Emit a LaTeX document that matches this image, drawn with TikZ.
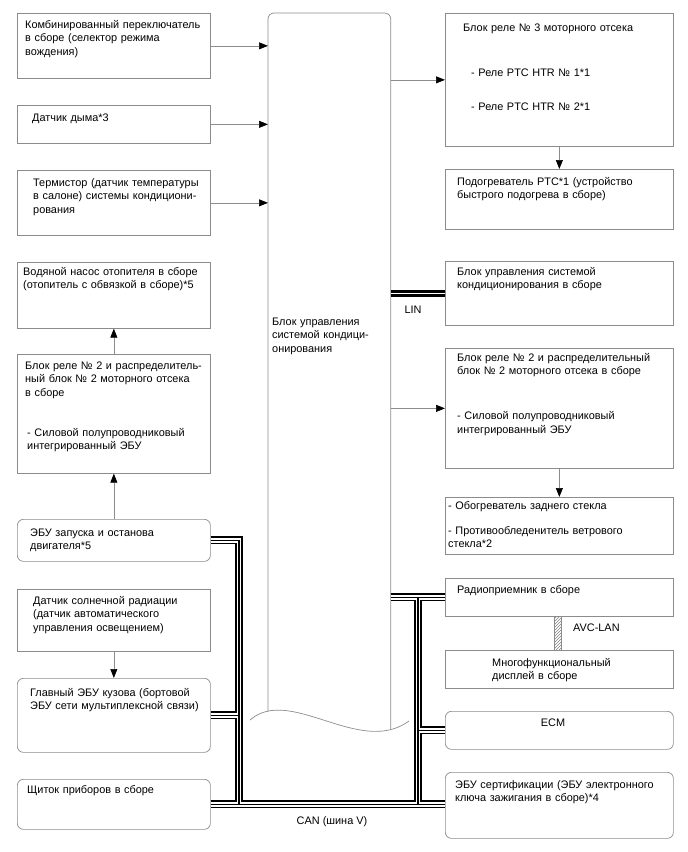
\documentclass[tikz,border=0pt]{standalone}
\usepackage{fontspec}
\setmainfont{Liberation Sans}
\usetikzlibrary{arrows.meta, patterns}

\definecolor{framegray}{HTML}{8C8C8C}

\begin{document}
\begin{tikzpicture}[
  x=1pt, y=-1pt,
  font=\fontsize{10.9}{13.3}\selectfont,
  box/.style={
    rectangle,
    draw=framegray,
    anchor=north west,
    inner sep=0pt,
    line width=0.7pt
  },
  rbox/.style={
    box,
    rounded corners=6pt
  },
  txt/.style={
    anchor=base west,
    inner sep=0pt,
    text width=230pt,
    align=left
  },
  note/.style={
    inner sep=0pt
  },
  flow/.style={
    draw=framegray,
    line width=0.7pt,
    -{Triangle[length=9pt, width=7pt, color=black]}
  },
  lin/.style={
    double=white,
    double distance=1.2pt,
    line width=2.9pt
  }
]
\useasboundingbox (0,0) rectangle (688,852);

% --- Central control unit --------------------------------------------

\node[box, draw=none, minimum width=122pt, minimum height=698pt] (acu) at (268,13) {};
\draw[framegray, line width=0.7pt, rounded corners=6pt]
  (acu.south west) -- (acu.north west) -- (acu.north east) -- ([yshift=-18pt]acu.south east);
\draw[framegray, line width=0.7pt] (250,720) .. controls (290,685) and (360,757) .. (409,721);
\node[txt] (acu-t) at (272,325.5)
{Блок управления\\системой кондици-\\онирования};

% --- Left column -----------------------------------------------------

\node[box, minimum width=193pt, minimum height=65pt] (combsw) at (17,13) {};
\node[txt] (combsw-t) at (25,28.5)
{Комбинированный переключатель\\в сборе (селектор режима\\вождения)};

\node[box, minimum width=193pt, minimum height=38pt] (smoke) at (17,105) {};
\node[txt] (smoke-t) at (32,121.5) {Датчик дыма*3};

\node[box, minimum width=193pt, minimum height=65pt] (thermo) at (17,170) {};
\node[txt] (thermo-t) at (33,186.5)
{Термистор (датчик температуры\\в салоне) системы кондициони-\\рования};

\node[box, minimum width=193pt, minimum height=66pt] (pump) at (17,262) {};
\node[txt] (pump-t) at (23,275.5)
{Водяной насос отопителя в сборе\\(отопитель с обвязкой в сборе)*5};

\node[box, minimum width=193pt, minimum height=119pt] (relay2l) at (17,354) {};
\node[txt] (relay2l-t) at (25,369.5)
{Блок реле № 2 и распределитель-\\ный блок № 2 моторного отсека\\в сборе\\[26.7pt]
\hspace*{2pt}- Силовой полупроводниковый\\\hspace*{2pt}интегрированный ЭБУ};

\node[rbox, minimum width=193pt, minimum height=42pt] (isg) at (17,519) {};
\node[txt] (isg-t) at (30,536.5)
{ЭБУ запуска и останова\\двигателя*5};

\node[box, minimum width=193pt, minimum height=62pt] (sun) at (17,589) {};
\node[txt] (sun-t) at (33,604.5)
{Датчик солнечной радиации\\(датчик автоматического\\управления освещением)};

\node[rbox, minimum width=193pt, minimum height=74pt] (mainbody) at (17,678) {};
\node[txt] (mainbody-t) at (30,696.5)
{Главный ЭБУ кузова (бортовой\\ЭБУ сети мультиплексной связи)};

\node[rbox, minimum width=193pt, minimum height=50pt] (meter) at (17,779) {};
\node[txt] (meter-t) at (27,793.5) {Щиток приборов в сборе};

% --- Right column ----------------------------------------------------

\node[box, minimum width=228pt, minimum height=133pt] (relay3) at (445,13) {};
\node[txt] (relay3-t) at (463,31.5)
{Блок реле № 3 моторного отсека\\[31.7pt]
\hspace*{8pt}- Реле PTC HTR № 1*1\\[20.7pt]
\hspace*{8pt}- Реле PTC HTR № 2*1};

\node[box, minimum width=228pt, minimum height=60pt] (ptc) at (445,169) {};
\node[txt] (ptc-t) at (457,185.5)
{Подогреватель PTC*1 (устройство\\быстрого подогрева в сборе)};

\node[box, minimum width=228pt, minimum height=64pt] (climate) at (445,261) {};
\node[txt] (climate-t) at (457,275.5)
{Блок управления системой\\кондиционирования в сборе};

\node[box, minimum width=228pt, minimum height=120pt] (relay2r) at (445,348) {};
\node[txt] (relay2r-t) at (457,361.5)
{Блок реле № 2 и распределительный\\блок № 2 моторного отсека в сборе\\[31.7pt]
- Силовой полупроводниковый\\интегрированный ЭБУ};

\node[box, minimum width=228pt, minimum height=57pt] (defog) at (445,497) {};
\node[txt] (defog-t) at (448,509.5)
{- Обогреватель заднего стекла\\[11.7pt]
- Противообледенитель ветрового\\стекла*2};

\node[box, minimum width=228pt, minimum height=38pt] (radio) at (445,578) {};
\node[txt] (radio-t) at (457,593.5) {Радиоприемник в сборе};

\node[box, minimum width=228pt, minimum height=38pt] (mfd) at (445,650) {};
\node[txt] (mfd-t) at (492,666.5)
{Многофункциональный\\дисплей в сборе};

\node[rbox, minimum width=228pt, minimum height=38pt] (ecm) at (445,711) {};
\node[note, anchor=base] (ecm-t) at (553,726.5) {ECM};

\node[rbox, minimum width=228pt, minimum height=66pt] (cert) at (445,772) {};
\node[txt] (cert-t) at (455,788.5)
{ЭБУ сертификации (ЭБУ электронного\\ключа зажигания в сборе)*4};

% --- Signal flows ----------------------------------------------------

\draw[flow] (combsw.east) -- (combsw.east -| acu.west);
\draw[flow] (smoke.east) -- (smoke.east -| acu.west);
\draw[flow] (thermo.east) -- (thermo.east -| acu.west);
\draw[flow] (acu.east |- relay3.west) -- (relay3.west);
\draw[flow] (acu.east |- relay2r.west) -- (relay2r.west);
\draw[flow] (relay3.south) -- (ptc.north);
\draw[flow] (relay2r.south) -- (defog.north);
\draw[flow] (relay2l.north) -- (pump.south);
\draw[flow] (isg.north) -- (relay2l.south);
\draw[flow] (sun.south) -- (mainbody.north);

% --- Buses -----------------------------------------------------------

\draw[lin] (acu.east |- climate.west) -- (climate.west);
\node[note] (lin-l) at (413,310) {LIN};

\draw[draw=framegray, line width=0.7pt, pattern=north east lines, pattern color=gray]
  ([xshift=-5pt]radio.south) rectangle ([xshift=2pt]mfd.north);
\node[note, anchor=west] (avc-l) at (573,628) {AVC-LAN};

\coordinate (busL) at (239,0);
\coordinate (busR) at (418,0);

% CAN (V bus), drawn in three passes so junctions merge
\foreach \bw/\bc in {8/black, 4.6/white, 1.4/black} {
  \draw[line width=\bw pt, \bc] (isg.east) -| (busL |- meter.east);
  \draw[line width=\bw pt, \bc] (mainbody.east) -- (busL |- mainbody.east);
  \draw[line width=\bw pt, \bc] (meter.east) -- (meter.east -| cert.west);
  \draw[line width=\bw pt, \bc] (acu.east |- radio.west) -- (radio.west);
  \draw[line width=\bw pt, \bc] (busR |- radio.west) -- (busR |- meter.east);
  \draw[line width=\bw pt, \bc] (busR |- ecm.west) -- (ecm.west);
}
\node[note] (can-l) at (332,822) {CAN (шина V)};

\end{tikzpicture}
\end{document}
